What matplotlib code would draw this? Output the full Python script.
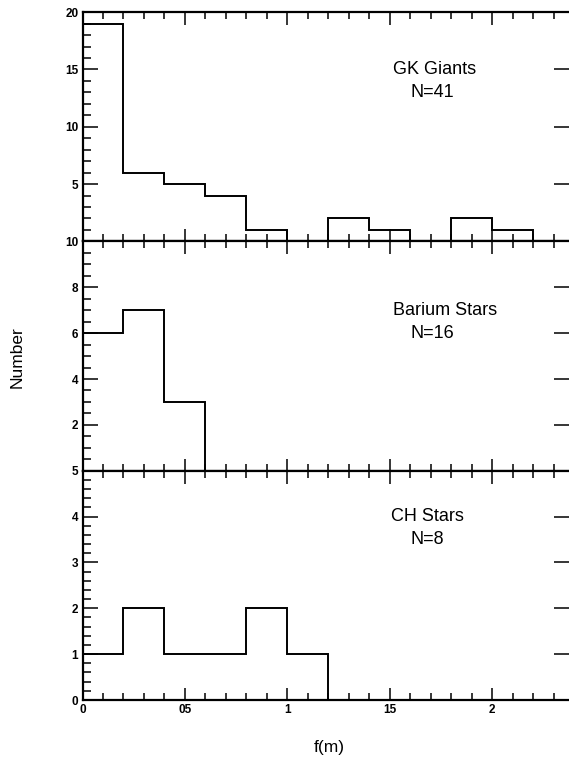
import matplotlib
matplotlib.use('Agg')
import matplotlib.pyplot as plt
from matplotlib.ticker import MultipleLocator, FixedLocator

plt.rcParams['font.family'] = ['Liberation Sans', 'DejaVu Sans']

# histogram bin edges (f(m)) and counts per panel
gk_edges = [0, 0.02, 0.04, 0.06, 0.08, 0.10, 0.12, 0.14, 0.16, 0.18, 0.20, 0.22]
gk_counts = [19, 6, 5, 4, 1, 0, 2, 1, 0, 2, 1]

ba_edges = [0, 0.02, 0.04, 0.06]
ba_counts = [6, 7, 3]

ch_edges = [0, 0.02, 0.04, 0.06, 0.08, 0.10, 0.12]
ch_counts = [1, 2, 1, 1, 2, 1]

x_ticks = [0, 0.05, 0.10, 0.15, 0.20]
x_labels = ['0', '05', '1', '15', '2']

# y tick labels (the lowest label of the upper panels is hidden by the panel below)
gk_yticks = [5, 10, 15, 20]
ba_yticks = [2, 4, 6, 8, 10]
ch_yticks = [0, 1, 2, 3, 4, 5]

panels = [
    (gk_edges, gk_counts, 20, gk_yticks, 1, ['GK Giants', 'N=41'], [(0.172, 15.0), (0.171, 13.0)]),
    (ba_edges, ba_counts, 10, ba_yticks, 0.5, ['Barium Stars', 'N=16'], [(0.177, 7.0), (0.171, 6.0)]),
    (ch_edges, ch_counts, 5, ch_yticks, 0.2, ['CH Stars', 'N=8'], [(0.1685, 4.0), (0.1685, 3.5)]),
]

fig, axes = plt.subplots(3, 1, sharex=True, figsize=(5.69, 7.58), dpi=100)
fig.subplots_adjust(left=0.145, right=1.0, bottom=0.0765, top=0.984, hspace=0)

for ax, (edges, counts, ymax, yticks, ymin, labels, pos) in zip(axes, panels):
    ax.stairs(counts, edges, baseline=0, color='black', linewidth=1.4)
    ax.set_ylim(0, ymax)
    ax.set_xlim(0, 0.2375)
    ax.set_yticks(yticks)
    ax.yaxis.set_minor_locator(MultipleLocator(ymin))
    ax.xaxis.set_minor_locator(MultipleLocator(0.01))
    ax.tick_params(axis='both', which='both', direction='in', width=1.1)
    ax.tick_params(axis='x', which='major', length=9, top=True)
    ax.tick_params(axis='x', which='minor', length=5, top=True)
    ax.tick_params(axis='y', which='major', length=11, right=True)
    ax.tick_params(axis='y', which='minor', length=6, right=False)
    ax.tick_params(axis='both', labelsize=8.5, pad=3)
    for lab in ax.get_yticklabels():
        lab.set_fontweight('bold')
    for sp in ['left', 'top', 'bottom']:
        ax.spines[sp].set_linewidth(1.6)
    ax.spines['right'].set_visible(False)
    for txt, (tx, ty) in zip(labels, pos):
        ax.text(tx, ty, txt, ha='center', va='center', fontsize=13)

axes[-1].set_xticks(x_ticks)
axes[-1].set_xticklabels(x_labels, fontweight='bold')

fig.text(0.03, 0.529, 'Number', rotation=90, ha='center', va='center', fontsize=12.5)
fig.text(0.578, 0.014, 'f(m)', ha='center', va='center', fontsize=12.5)

fig.savefig('out.png', dpi=100)
